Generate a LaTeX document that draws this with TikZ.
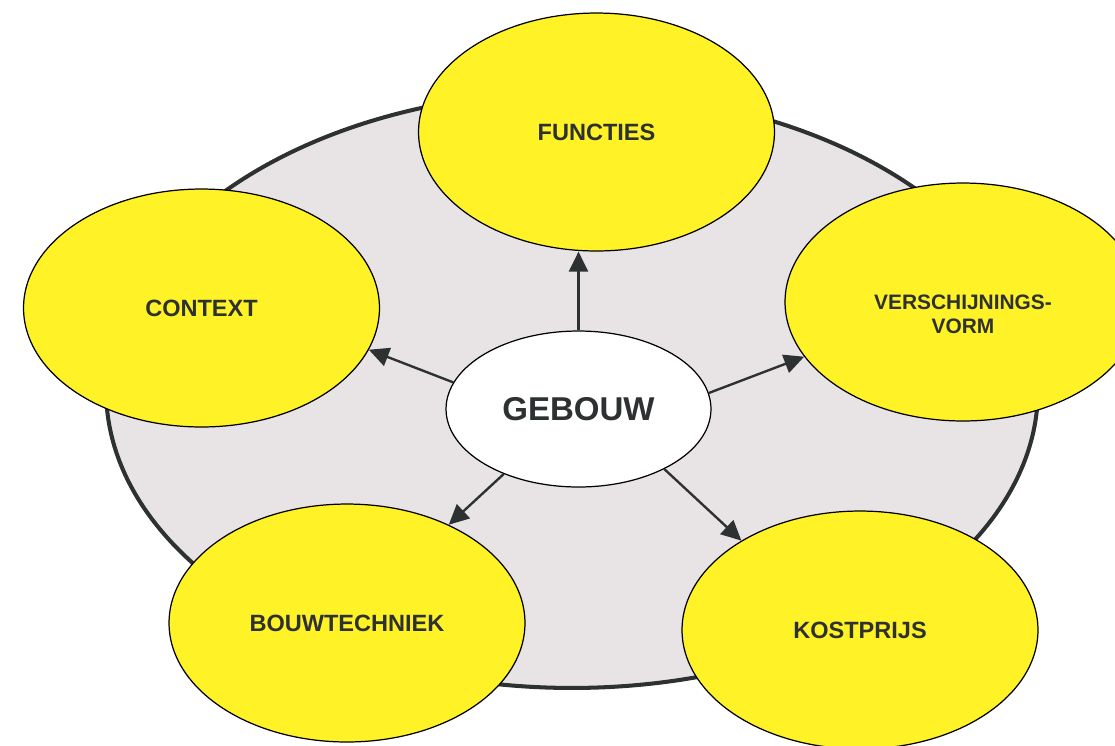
\documentclass[tikz,border=0pt]{standalone}
\usepackage{fontspec}
\setmainfont{Liberation Sans}
\usetikzlibrary{shapes.geometric,arrows.meta}
\definecolor{geelvlak}{RGB}{255,242,38}
\definecolor{grijsvlak}{RGB}{232,228,229}
\definecolor{donker}{RGB}{45,49,49}
\tikzset{
  thema/.style={ellipse,draw=black,line width=0.7pt,fill=geelvlak,
    minimum width=7.12cm,minimum height=4.76cm,inner sep=0,align=center,
    text=donker,font=\bfseries\fontsize{13.4}{16}\selectfont},
  pijl/.style={-{Triangle[length=0.4cm,width=0.38cm]},line width=1.35pt,draw=donker},
}
\begin{document}
\begin{tikzpicture}[x=0.02cm,y=-0.02cm]
  \useasboundingbox (0,0) rectangle (1115,745);

  \node (veld) at (572,390) [ellipse,draw=donker,line width=2.3pt,fill=grijsvlak,
    minimum width=18.64cm,minimum height=11.92cm]{};

  \node (gebouw) at (578.5,409) [ellipse,draw=black,line width=0.7pt,fill=white,
    minimum width=5.3cm,minimum height=3.12cm,inner sep=0,text=donker,
    font=\bfseries\fontsize{18.8}{22}\selectfont]{GEBOUW};
  \node (functies) at (596.5,132) [thema]{FUNCTIES};
  \node (context) at (201.5,308) [thema]{CONTEXT};
  \node (vorm) at (963,302) [thema,font=\bfseries\fontsize{11.9}{13.7}\selectfont]
    {\rule{0pt}{22pt}VERSCHIJNINGS-\\VORM};
  \node (techniek) at (347,623) [thema]{BOUWTECHNIEK};
  \node (kostprijs) at (860,630) [thema]{KOSTPRIJS};

  \draw[pijl] (gebouw.north) -- (gebouw.north |- functies.south);
  \draw[pijl] (gebouw.168) -- (context.-14);
  \draw[pijl] (gebouw.7) -- (vorm.-161);
  \draw[pijl] (gebouw.-139) -- (techniek.44);
  \draw[pijl] (gebouw.-35) -- (kostprijs.143);

\end{tikzpicture}
\end{document}
